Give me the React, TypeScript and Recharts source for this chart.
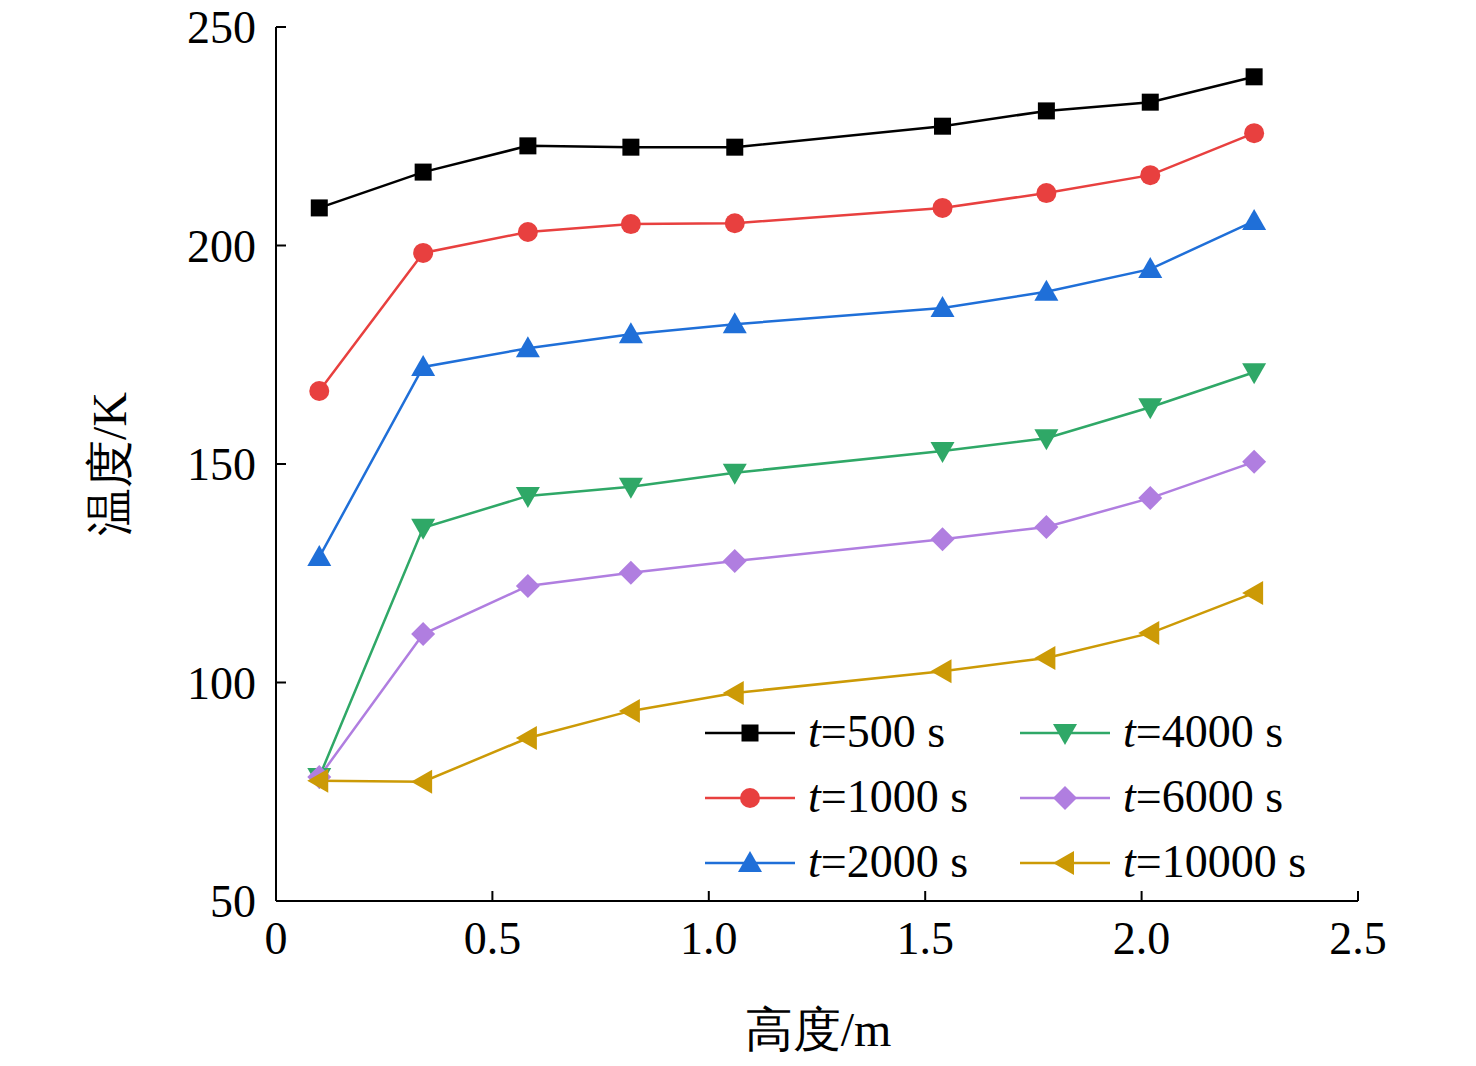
import React from "react";
import { LineChart, Line, XAxis, YAxis } from "recharts";

const heights = [0.1, 0.34, 0.582, 0.82, 1.06, 1.54, 1.78, 2.02, 2.26];
const t500 = [208.6, 216.8, 222.8, 222.5, 222.5, 227.3, 230.8, 232.8, 238.6];
const t1000 = [166.7, 198.3, 203.1, 204.9, 205.1, 208.6, 212, 216.1, 225.7];
const t2000 = [128.7, 172.2, 176.5, 179.7, 182, 185.7, 189.4, 194.6, 205.6];
const t4000 = [78.4, 135.4, 142.7, 144.8, 148, 153, 155.9, 163, 171];
const t6000 = [78.4, 111.1, 122.1, 125.1, 127.8, 132.8, 135.6, 142.2, 150.5];
const t10000 = [77.5, 77.3, 87.3, 93.5, 97.6, 102.6, 105.6, 111.3, 120.5];
const xTicks = [0, 0.5, 1, 1.5, 2, 2.5];
const yTicks = [50, 100, 150, 200, 250];

const series = [
  { key: "a", name: "500", vals: t500, color: "#000000", shape: "square" },
  { key: "b", name: "1000", vals: t1000, color: "#e8403f", shape: "circle" },
  { key: "c", name: "2000", vals: t2000, color: "#1f6fd8", shape: "up" },
  { key: "d", name: "4000", vals: t4000, color: "#2fa867", shape: "down" },
  { key: "e", name: "6000", vals: t6000, color: "#b07ee0", shape: "diamond" },
  { key: "f", name: "10000", vals: t10000, color: "#cc9a06", shape: "left" },
];

const data = heights.map((h, i) => {
  const o: any = { h };
  series.forEach((s) => (o[s.key] = s.vals[i]));
  return o;
});

function Marker({ cx, cy, shape, color }: any) {
  if (cx == null || cy == null) return null;
  const s = 11;
  switch (shape) {
    case "square":
      return <rect x={cx - 8.5} y={cy - 8.5} width={17} height={17} fill={color} />;
    case "circle":
      return <circle cx={cx} cy={cy} r={10} fill={color} />;
    case "up":
      return <polygon points={`${cx},${cy - s - 1} ${cx - s - 1},${cy + s - 2} ${cx + s + 1},${cy + s - 2}`} fill={color} />;
    case "down":
      return <polygon points={`${cx},${cy + s + 1} ${cx - s - 1},${cy - s + 2} ${cx + s + 1},${cy - s + 2}`} fill={color} />;
    case "diamond":
      return <polygon points={`${cx},${cy - s - 1} ${cx + s + 1},${cy} ${cx},${cy + s + 1} ${cx - s - 1},${cy}`} fill={color} />;
    case "left":
      return <polygon points={`${cx - s - 1},${cy} ${cx + s - 2},${cy - s - 1} ${cx + s - 2},${cy + s + 1}`} fill={color} />;
  }
  return null;
}

const font = "'Liberation Serif', 'Times New Roman', serif";

function LegendBox() {
  return (
    <div style={{ position: "absolute", left: 705, top: 703, width: 660, height: 200 }}>
      {series.map((s, i) => {
        const col = Math.floor(i / 3);
        const row = i % 3;
        return (
          <div key={s.key} style={{ position: "absolute", left: col * 315, top: row * 65, height: 60, width: 330 }}>
            <svg width={95} height={60} style={{ position: "absolute", left: 0, top: 0 }}>
              <line x1={0} x2={90} y1={30} y2={30} stroke={s.color} strokeWidth={2.5} />
              <Marker cx={45} cy={30} shape={s.shape} color={s.color} />
            </svg>
            <div style={{ position: "absolute", left: 103, top: 3, fontFamily: font, fontSize: 46, lineHeight: "52px", color: "#000", whiteSpace: "nowrap" }}>
              <i>t</i>={s.name} s
            </div>
          </div>
        );
      })}
    </div>
  );
}

const axisStyle = { stroke: "#000", strokeWidth: 2 };

export default function App() {
  return (
    <div style={{ position: "absolute", left: 0, top: 0, width: 1476, height: 1066, background: "#fff" }}>
      <LineChart width={1476} height={1066} data={data} margin={{ top: 27, right: 118, bottom: 105, left: 176 }}>
        <XAxis dataKey="h" type="number" domain={[0, 2.5]} ticks={xTicks} allowDataOverflow
          tickFormatter={(v: number) => (v === 0 ? "0" : v.toFixed(1))}
          height={60} tickSize={-10} tickMargin={30}
          axisLine={axisStyle} tickLine={axisStyle}
          tick={{ fill: "#000", fontSize: 46, fontFamily: font }} />
        <XAxis xAxisId="top" dataKey="h" type="number" domain={[0, 2.5]} ticks={xTicks} orientation="top"
          height={0} tickSize={-10} tick={false} axisLine={axisStyle} tickLine={axisStyle} />
        <YAxis type="number" domain={[50, 250]} ticks={yTicks} width={100} tickSize={-10} tickMargin={30}
          axisLine={axisStyle} tickLine={axisStyle}
          tick={{ fill: "#000", fontSize: 46, fontFamily: font }} />
        <YAxis yAxisId="right" type="number" domain={[50, 250]} ticks={yTicks} orientation="right" width={0}
          tickSize={-10} tick={false} axisLine={axisStyle} tickLine={axisStyle} />
        <Line xAxisId="top" yAxisId="right" dataKey="a" stroke="none" dot={false} legendType="none" isAnimationActive={false} />
        {series.map((s) => (
          <Line key={s.key} dataKey={s.key} stroke={s.color} strokeWidth={2.5} isAnimationActive={false}
            dot={(p: any) => <Marker key={p.index} cx={p.cx} cy={p.cy} shape={s.shape} color={s.color} />} />
        ))}
      </LineChart>
      <LegendBox />
      <div style={{ position: "absolute", left: 0, width: 1476, top: 998, textAlign: "center", paddingLeft: 160, boxSizing: "border-box", fontFamily: font, fontSize: 48 }}>
        高度/m
      </div>
      <div style={{ position: "absolute", left: 110, top: 464, transform: "translate(-50%, -50%) rotate(-90deg)", fontFamily: font, fontSize: 48, whiteSpace: "nowrap" }}>
        温度/K
      </div>
    </div>
  );
}
